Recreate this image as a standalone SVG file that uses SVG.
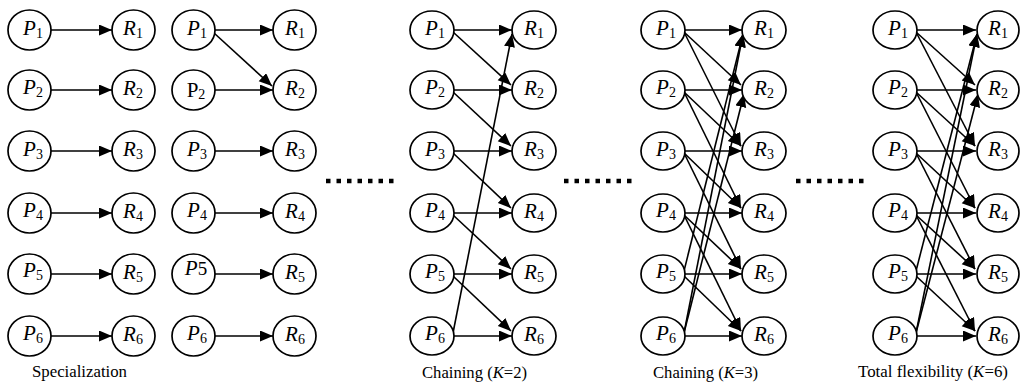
<svg xmlns="http://www.w3.org/2000/svg" width="1020" height="387" viewBox="0 0 1020 387">
<style>
.n{fill:#fff;stroke:#000;stroke-width:1.7}
.t{font-family:"Liberation Serif","Times New Roman",serif;font-size:21px;font-style:italic;fill:#000;text-anchor:middle}
.s{font-size:14px;font-style:normal}
.e{stroke:#000;stroke-width:1.6;fill:none;marker-end:url(#ah)}
.cap{font-family:"Liberation Serif","Times New Roman",serif;font-size:16px;fill:#000}
.dots{stroke:#000;stroke-width:4.5;stroke-dasharray:4.5 6}
</style>
<defs>
<marker id="ah" markerUnits="userSpaceOnUse" markerWidth="14" markerHeight="12" refX="13" refY="5.5" orient="auto" viewBox="0 0 14 12">
<path d="M0,0 L13,5.5 L0,11 z" fill="#000"/>
</marker>
</defs>
<rect width="1020" height="387" fill="#fff"/>
<g id="connectors">
<line class="e" x1="51" y1="30" x2="112" y2="30"/>
<line class="e" x1="51" y1="90" x2="112" y2="90"/>
<line class="e" x1="51" y1="151" x2="112" y2="151"/>
<line class="e" x1="51" y1="213" x2="112" y2="213"/>
<line class="e" x1="51" y1="274" x2="112" y2="274"/>
<line class="e" x1="51" y1="336" x2="112" y2="336"/>
<line class="e" x1="215" y1="30" x2="273" y2="30"/>
<line class="e" x1="214" y1="33" x2="272" y2="86"/>
<line class="e" x1="215" y1="90" x2="273" y2="90"/>
<line class="e" x1="215" y1="151" x2="273" y2="151"/>
<line class="e" x1="215" y1="213" x2="273" y2="213"/>
<line class="e" x1="215" y1="274" x2="273" y2="274"/>
<line class="e" x1="215" y1="336" x2="273" y2="336"/>
<line class="e" x1="454" y1="30" x2="512" y2="30"/>
<line class="e" x1="454" y1="90" x2="512" y2="90"/>
<line class="e" x1="454" y1="151" x2="512" y2="151"/>
<line class="e" x1="454" y1="213" x2="512" y2="213"/>
<line class="e" x1="454" y1="274" x2="512" y2="274"/>
<line class="e" x1="454" y1="336" x2="512" y2="336"/>
<line class="e" x1="453" y1="32" x2="511" y2="85"/>
<line class="e" x1="453" y1="92" x2="511" y2="146"/>
<line class="e" x1="453" y1="153" x2="511" y2="208"/>
<line class="e" x1="453" y1="215" x2="511" y2="269"/>
<line class="e" x1="453" y1="276" x2="511" y2="331"/>
<line class="e" x1="453" y1="333" x2="512" y2="34"/>
<line class="e" x1="685" y1="30" x2="742" y2="30"/>
<line class="e" x1="685" y1="90" x2="742" y2="90"/>
<line class="e" x1="685" y1="151" x2="742" y2="151"/>
<line class="e" x1="685" y1="213" x2="742" y2="213"/>
<line class="e" x1="685" y1="274" x2="742" y2="274"/>
<line class="e" x1="685" y1="336" x2="742" y2="336"/>
<line class="e" x1="684" y1="32" x2="741" y2="85"/>
<line class="e" x1="684" y1="32" x2="741" y2="146"/>
<line class="e" x1="684" y1="92" x2="741" y2="146"/>
<line class="e" x1="684" y1="92" x2="741" y2="208"/>
<line class="e" x1="684" y1="153" x2="741" y2="208"/>
<line class="e" x1="684" y1="153" x2="741" y2="269"/>
<line class="e" x1="684" y1="215" x2="741" y2="269"/>
<line class="e" x1="684" y1="215" x2="741" y2="331"/>
<line class="e" x1="684" y1="276" x2="741" y2="331"/>
<line class="e" x1="684" y1="271" x2="743" y2="34"/>
<line class="e" x1="684" y1="333" x2="743" y2="34"/>
<line class="e" x1="684" y1="333" x2="744" y2="94"/>
<line class="e" x1="917" y1="30" x2="976" y2="30"/>
<line class="e" x1="917" y1="90" x2="976" y2="90"/>
<line class="e" x1="917" y1="151" x2="976" y2="151"/>
<line class="e" x1="917" y1="213" x2="976" y2="213"/>
<line class="e" x1="917" y1="274" x2="976" y2="274"/>
<line class="e" x1="917" y1="336" x2="976" y2="336"/>
<line class="e" x1="916" y1="32" x2="975" y2="85"/>
<line class="e" x1="916" y1="32" x2="975" y2="146"/>
<line class="e" x1="916" y1="92" x2="975" y2="146"/>
<line class="e" x1="916" y1="92" x2="975" y2="208"/>
<line class="e" x1="916" y1="153" x2="975" y2="208"/>
<line class="e" x1="916" y1="153" x2="975" y2="269"/>
<line class="e" x1="916" y1="215" x2="975" y2="269"/>
<line class="e" x1="916" y1="215" x2="975" y2="331"/>
<line class="e" x1="916" y1="276" x2="975" y2="331"/>
<line class="e" x1="916" y1="271" x2="977" y2="34"/>
<line class="e" x1="916" y1="333" x2="977" y2="34"/>
<line class="e" x1="916" y1="333" x2="978" y2="94"/>
</g>
<g id="dots">
<line class="dots" x1="326" y1="181" x2="394" y2="181"/>
<line class="dots" x1="564" y1="181" x2="632" y2="181"/>
<line class="dots" x1="796" y1="181" x2="864" y2="181"/>
</g>
<g id="a-P1"><ellipse class="n" cx="29.5" cy="30" rx="21.5" ry="20"/><text class="t" x="33" y="35">P<tspan class="s" dy="3">1</tspan></text></g>
<g id="a-P2"><ellipse class="n" cx="29.5" cy="90" rx="21.5" ry="20"/><text class="t" x="33" y="94">P<tspan class="s" dy="3">2</tspan></text></g>
<g id="a-P3"><ellipse class="n" cx="29.5" cy="151" rx="21.5" ry="20"/><text class="t" x="33" y="156">P<tspan class="s" dy="3">3</tspan></text></g>
<g id="a-P4"><ellipse class="n" cx="29.5" cy="213" rx="21.5" ry="20"/><text class="t" x="33" y="217">P<tspan class="s" dy="3">4</tspan></text></g>
<g id="a-P5"><ellipse class="n" cx="29.5" cy="274" rx="21.5" ry="20"/><text class="t" x="33" y="277">P<tspan class="s" dy="3">5</tspan></text></g>
<g id="a-P6"><ellipse class="n" cx="29.5" cy="336" rx="21.5" ry="20"/><text class="t" x="33" y="340">P<tspan class="s" dy="3">6</tspan></text></g>
<g id="a-R1"><ellipse class="n" cx="133.5" cy="30" rx="21.5" ry="20"/><text class="t" x="133" y="35">R<tspan class="s" dy="3">1</tspan></text></g>
<g id="a-R2"><ellipse class="n" cx="133.5" cy="90" rx="21.5" ry="20"/><text class="t" x="133" y="95">R<tspan class="s" dy="3">2</tspan></text></g>
<g id="a-R3"><ellipse class="n" cx="133.5" cy="151" rx="21.5" ry="20"/><text class="t" x="133" y="156">R<tspan class="s" dy="3">3</tspan></text></g>
<g id="a-R4"><ellipse class="n" cx="133.5" cy="213" rx="21.5" ry="20"/><text class="t" x="133" y="218">R<tspan class="s" dy="3">4</tspan></text></g>
<g id="a-R5"><ellipse class="n" cx="133.5" cy="274" rx="21.5" ry="20"/><text class="t" x="133" y="279">R<tspan class="s" dy="3">5</tspan></text></g>
<g id="a-R6"><ellipse class="n" cx="133.5" cy="336" rx="21.5" ry="20"/><text class="t" x="133" y="341">R<tspan class="s" dy="3">6</tspan></text></g>
<g id="b-P1"><ellipse class="n" cx="193.5" cy="30" rx="21.5" ry="20"/><text class="t" x="197" y="35">P<tspan class="s" dy="3">1</tspan></text></g>
<g id="b-P2"><ellipse class="n" cx="193.5" cy="90" rx="21.5" ry="20"/><text class="t" x="196" y="97" style="font-style:normal">P<tspan class="s" dy="2">2</tspan></text></g>
<g id="b-P3"><ellipse class="n" cx="193.5" cy="151" rx="21.5" ry="20"/><text class="t" x="197" y="156">P<tspan class="s" dy="3">3</tspan></text></g>
<g id="b-P4"><ellipse class="n" cx="193.5" cy="213" rx="21.5" ry="20"/><text class="t" x="197" y="217">P<tspan class="s" dy="3">4</tspan></text></g>
<g id="b-P5"><ellipse class="n" cx="193.5" cy="274" rx="21.5" ry="20"/><text class="t" x="196" y="275">P<tspan style="font-style:normal;font-size:19px">5</tspan></text></g>
<g id="b-P6"><ellipse class="n" cx="193.5" cy="336" rx="21.5" ry="20"/><text class="t" x="197" y="340">P<tspan class="s" dy="3">6</tspan></text></g>
<g id="b-R1"><ellipse class="n" cx="294.5" cy="30" rx="21.5" ry="20"/><text class="t" x="295" y="35">R<tspan class="s" dy="3">1</tspan></text></g>
<g id="b-R2"><ellipse class="n" cx="294.5" cy="90" rx="21.5" ry="20"/><text class="t" x="295" y="95">R<tspan class="s" dy="3">2</tspan></text></g>
<g id="b-R3"><ellipse class="n" cx="294.5" cy="151" rx="21.5" ry="20"/><text class="t" x="295" y="156">R<tspan class="s" dy="3">3</tspan></text></g>
<g id="b-R4"><ellipse class="n" cx="294.5" cy="213" rx="21.5" ry="20"/><text class="t" x="295" y="218">R<tspan class="s" dy="3">4</tspan></text></g>
<g id="b-R5"><ellipse class="n" cx="294.5" cy="274" rx="21.5" ry="20"/><text class="t" x="295" y="279">R<tspan class="s" dy="3">5</tspan></text></g>
<g id="b-R6"><ellipse class="n" cx="294.5" cy="336" rx="21.5" ry="20"/><text class="t" x="295" y="341">R<tspan class="s" dy="3">6</tspan></text></g>
<g id="c-P1"><ellipse class="n" cx="432" cy="30" rx="22" ry="19"/><text class="t" x="435" y="35">P<tspan class="s" dy="3">1</tspan></text></g>
<g id="c-P2"><ellipse class="n" cx="432" cy="90" rx="22" ry="19"/><text class="t" x="435" y="94">P<tspan class="s" dy="3">2</tspan></text></g>
<g id="c-P3"><ellipse class="n" cx="432" cy="151" rx="22" ry="19"/><text class="t" x="435" y="156">P<tspan class="s" dy="3">3</tspan></text></g>
<g id="c-P4"><ellipse class="n" cx="432" cy="213" rx="22" ry="19"/><text class="t" x="435" y="217">P<tspan class="s" dy="3">4</tspan></text></g>
<g id="c-P5"><ellipse class="n" cx="432" cy="274" rx="22" ry="19"/><text class="t" x="435" y="278">P<tspan class="s" dy="3">5</tspan></text></g>
<g id="c-P6"><ellipse class="n" cx="432" cy="336" rx="22" ry="19"/><text class="t" x="435" y="340">P<tspan class="s" dy="3">6</tspan></text></g>
<g id="c-R1"><ellipse class="n" cx="534" cy="30" rx="22" ry="19"/><text class="t" x="534" y="35">R<tspan class="s" dy="3">1</tspan></text></g>
<g id="c-R2"><ellipse class="n" cx="534" cy="90" rx="22" ry="19"/><text class="t" x="534" y="95">R<tspan class="s" dy="3">2</tspan></text></g>
<g id="c-R3"><ellipse class="n" cx="534" cy="151" rx="22" ry="19"/><text class="t" x="534" y="156">R<tspan class="s" dy="3">3</tspan></text></g>
<g id="c-R4"><ellipse class="n" cx="534" cy="213" rx="22" ry="19"/><text class="t" x="534" y="218">R<tspan class="s" dy="3">4</tspan></text></g>
<g id="c-R5"><ellipse class="n" cx="534" cy="274" rx="22" ry="19"/><text class="t" x="534" y="279">R<tspan class="s" dy="3">5</tspan></text></g>
<g id="c-R6"><ellipse class="n" cx="534" cy="336" rx="22" ry="19"/><text class="t" x="534" y="341">R<tspan class="s" dy="3">6</tspan></text></g>
<g id="d-P1"><ellipse class="n" cx="663" cy="30" rx="22" ry="19"/><text class="t" x="666" y="35">P<tspan class="s" dy="3">1</tspan></text></g>
<g id="d-P2"><ellipse class="n" cx="663" cy="90" rx="22" ry="19"/><text class="t" x="666" y="94">P<tspan class="s" dy="3">2</tspan></text></g>
<g id="d-P3"><ellipse class="n" cx="663" cy="151" rx="22" ry="19"/><text class="t" x="666" y="156">P<tspan class="s" dy="3">3</tspan></text></g>
<g id="d-P4"><ellipse class="n" cx="663" cy="213" rx="22" ry="19"/><text class="t" x="666" y="217">P<tspan class="s" dy="3">4</tspan></text></g>
<g id="d-P5"><ellipse class="n" cx="663" cy="274" rx="22" ry="19"/><text class="t" x="666" y="278">P<tspan class="s" dy="3">5</tspan></text></g>
<g id="d-P6"><ellipse class="n" cx="663" cy="336" rx="22" ry="19"/><text class="t" x="666" y="340">P<tspan class="s" dy="3">6</tspan></text></g>
<g id="d-R1"><ellipse class="n" cx="764" cy="30" rx="22" ry="19"/><text class="t" x="764" y="35">R<tspan class="s" dy="3">1</tspan></text></g>
<g id="d-R2"><ellipse class="n" cx="764" cy="90" rx="22" ry="19"/><text class="t" x="764" y="95">R<tspan class="s" dy="3">2</tspan></text></g>
<g id="d-R3"><ellipse class="n" cx="764" cy="151" rx="22" ry="19"/><text class="t" x="764" y="156">R<tspan class="s" dy="3">3</tspan></text></g>
<g id="d-R4"><ellipse class="n" cx="764" cy="213" rx="22" ry="19"/><text class="t" x="764" y="218">R<tspan class="s" dy="3">4</tspan></text></g>
<g id="d-R5"><ellipse class="n" cx="764" cy="274" rx="22" ry="19"/><text class="t" x="764" y="279">R<tspan class="s" dy="3">5</tspan></text></g>
<g id="d-R6"><ellipse class="n" cx="764" cy="336" rx="22" ry="19"/><text class="t" x="764" y="341">R<tspan class="s" dy="3">6</tspan></text></g>
<g id="e-P1"><ellipse class="n" cx="895" cy="30" rx="22" ry="19"/><text class="t" x="898" y="35">P<tspan class="s" dy="3">1</tspan></text></g>
<g id="e-P2"><ellipse class="n" cx="895" cy="90" rx="22" ry="19"/><text class="t" x="898" y="94">P<tspan class="s" dy="3">2</tspan></text></g>
<g id="e-P3"><ellipse class="n" cx="895" cy="151" rx="22" ry="19"/><text class="t" x="898" y="156">P<tspan class="s" dy="3">3</tspan></text></g>
<g id="e-P4"><ellipse class="n" cx="895" cy="213" rx="22" ry="19"/><text class="t" x="898" y="217">P<tspan class="s" dy="3">4</tspan></text></g>
<g id="e-P5"><ellipse class="n" cx="895" cy="274" rx="22" ry="19"/><text class="t" x="898" y="278">P<tspan class="s" dy="3">5</tspan></text></g>
<g id="e-P6"><ellipse class="n" cx="895" cy="336" rx="22" ry="19"/><text class="t" x="898" y="340">P<tspan class="s" dy="3">6</tspan></text></g>
<g id="e-R1"><ellipse class="n" cx="998" cy="30" rx="21" ry="19"/><text class="t" x="998" y="35">R<tspan class="s" dy="3">1</tspan></text></g>
<g id="e-R2"><ellipse class="n" cx="998" cy="90" rx="21" ry="19"/><text class="t" x="998" y="95">R<tspan class="s" dy="3">2</tspan></text></g>
<g id="e-R3"><ellipse class="n" cx="998" cy="151" rx="21" ry="19"/><text class="t" x="998" y="156">R<tspan class="s" dy="3">3</tspan></text></g>
<g id="e-R4"><ellipse class="n" cx="998" cy="213" rx="21" ry="19"/><text class="t" x="998" y="218">R<tspan class="s" dy="3">4</tspan></text></g>
<g id="e-R5"><ellipse class="n" cx="998" cy="274" rx="21" ry="19"/><text class="t" x="998" y="279">R<tspan class="s" dy="3">5</tspan></text></g>
<g id="e-R6"><ellipse class="n" cx="998" cy="336" rx="21" ry="19"/><text class="t" x="998" y="341">R<tspan class="s" dy="3">6</tspan></text></g>
<g id="captions">
<text class="cap" x="32" y="377" textLength="95" lengthAdjust="spacingAndGlyphs">Specialization</text>
<text class="cap" x="422" y="378" textLength="105" lengthAdjust="spacingAndGlyphs">Chaining (<tspan font-style="italic">K</tspan>=2)</text>
<text class="cap" x="653" y="378" textLength="105" lengthAdjust="spacingAndGlyphs">Chaining (<tspan font-style="italic">K</tspan>=3)</text>
<text class="cap" x="858" y="377" textLength="150" lengthAdjust="spacingAndGlyphs">Total flexibility (<tspan font-style="italic">K</tspan>=6)</text>
</g>
</svg>
